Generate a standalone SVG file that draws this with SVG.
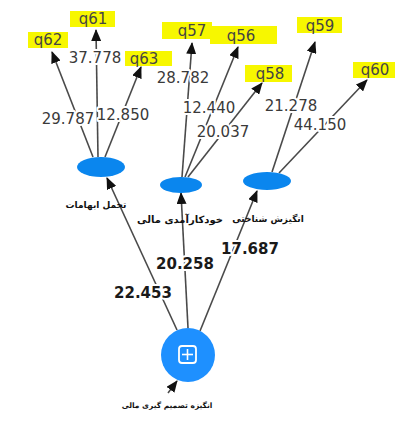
<svg xmlns="http://www.w3.org/2000/svg" width="395" height="421" viewBox="0 0 395 421">
<style>
.c{stroke:#4a4a4a;stroke-width:1.6;fill:none}
.w{font-family:"DejaVu Sans",sans-serif;font-size:15px;fill:#3a3a3a;text-anchor:middle;stroke:#fff;stroke-width:4;paint-order:stroke;stroke-linejoin:round}
.b{font-family:"DejaVu Sans",sans-serif;font-size:15px;font-weight:bold;fill:#1a1a1a;text-anchor:middle;stroke:#fff;stroke-width:4;paint-order:stroke;stroke-linejoin:round}
.q{font-family:"DejaVu Sans",sans-serif;font-size:15px;fill:#444;text-anchor:middle}
.hl{fill:#f7f700}
.fa{font-family:"DejaVu Sans",sans-serif;font-size:9px;font-weight:bold;fill:#111;text-anchor:middle}
.lv{fill:#0a86ee}
</style>
<defs>
<marker id="ah" viewBox="0 0 12 10" refX="11" refY="5" markerWidth="12" markerHeight="10" markerUnits="userSpaceOnUse" orient="auto">
<path d="M0,0 L12,5 L0,10 z" fill="#111"/>
</marker>
</defs>
<rect width="395" height="421" fill="#fff"/>
<g id="connectors">
<line class="c" x1="93" y1="157" x2="52" y2="52" marker-end="url(#ah)"/>
<line class="c" x1="98" y1="157" x2="96" y2="30" marker-end="url(#ah)"/>
<line class="c" x1="105" y1="157" x2="141" y2="67" marker-end="url(#ah)"/>
<line class="c" x1="182" y1="177" x2="192" y2="43" marker-end="url(#ah)"/>
<line class="c" x1="185" y1="177" x2="238" y2="47" marker-end="url(#ah)"/>
<line class="c" x1="188" y1="177" x2="262" y2="83" marker-end="url(#ah)"/>
<line class="c" x1="272" y1="172" x2="315" y2="42" marker-end="url(#ah)"/>
<line class="c" x1="279" y1="173" x2="367" y2="80" marker-end="url(#ah)"/>
<line class="c" x1="177" y1="330" x2="107" y2="178" marker-end="url(#ah)"/>
<line class="c" x1="188" y1="328" x2="181" y2="193" marker-end="url(#ah)"/>
<line class="c" x1="200" y1="331" x2="257" y2="191" marker-end="url(#ah)"/>
<line class="c" x1="168" y1="393" x2="177" y2="381" marker-end="url(#ah)"/>
<text class="w" x="68" y="124">29.787</text>
<text class="w" x="95" y="63">37.778</text>
<text class="w" x="123" y="120">12.850</text>
<text class="w" x="183" y="83">28.782</text>
<text class="w" x="209" y="113">12.440</text>
<text class="w" x="223" y="137">20.037</text>
<text class="w" x="291" y="111">21.278</text>
<text class="w" x="320" y="130">44.150</text>
<text class="b" x="143" y="298">22.453</text>
<text class="b" x="185" y="269">20.258</text>
<text class="b" x="250" y="254">17.687</text>
</g>
<g id="q62"><rect class="hl" x="28" y="32" width="40" height="16"/><text class="q" x="48" y="45">q62</text></g>
<g id="q61"><rect class="hl" x="70" y="11" width="45" height="16"/><text class="q" x="93" y="24">q61</text></g>
<g id="q63"><rect class="hl" x="125" y="51" width="47" height="15"/><text class="q" x="144" y="64">q63</text></g>
<g id="q57"><rect class="hl" x="162" y="22" width="50" height="17"/><text class="q" x="192" y="36">q57</text></g>
<g id="q56"><rect class="hl" x="210" y="26" width="67" height="18"/><text class="q" x="241" y="41">q56</text></g>
<g id="q58"><rect class="hl" x="245" y="65" width="47" height="17"/><text class="q" x="270" y="79">q58</text></g>
<g id="q59"><rect class="hl" x="297" y="17" width="45" height="16"/><text class="q" x="320" y="31">q59</text></g>
<g id="q60"><rect class="hl" x="353" y="62" width="42" height="16"/><text class="q" x="375" y="75">q60</text></g>
<g id="tahammol"><ellipse class="lv" cx="101" cy="167" rx="24" ry="10"/>
<text class="fa" x="96" y="208">تحمل ابهامات</text></g>
<g id="khodkaramadi"><ellipse class="lv" cx="181" cy="185" rx="21" ry="8"/>
<text class="fa" x="180" y="223" style="font-size:10px">خودکارآمدی مالی</text></g>
<g id="angizesh"><ellipse class="lv" cx="267" cy="181" rx="24" ry="9"/>
<text class="fa" x="268" y="222">انگیزش شناختی</text></g>
<g id="angize-tasmim">
<circle cx="188" cy="355" r="27" fill="#1e90ff"/>
<rect x="179" y="346" width="17" height="17" rx="3" fill="none" stroke="#fff" stroke-width="1.8"/>
<line x1="187.5" y1="349" x2="187.5" y2="360" stroke="#fff" stroke-width="1.6"/>
<line x1="182" y1="354.5" x2="193" y2="354.5" stroke="#fff" stroke-width="1.6"/>
<text class="fa" x="167" y="408" style="font-size:7.5px">انگیزه تصمیم گیری مالی</text>
</g>
</svg>
